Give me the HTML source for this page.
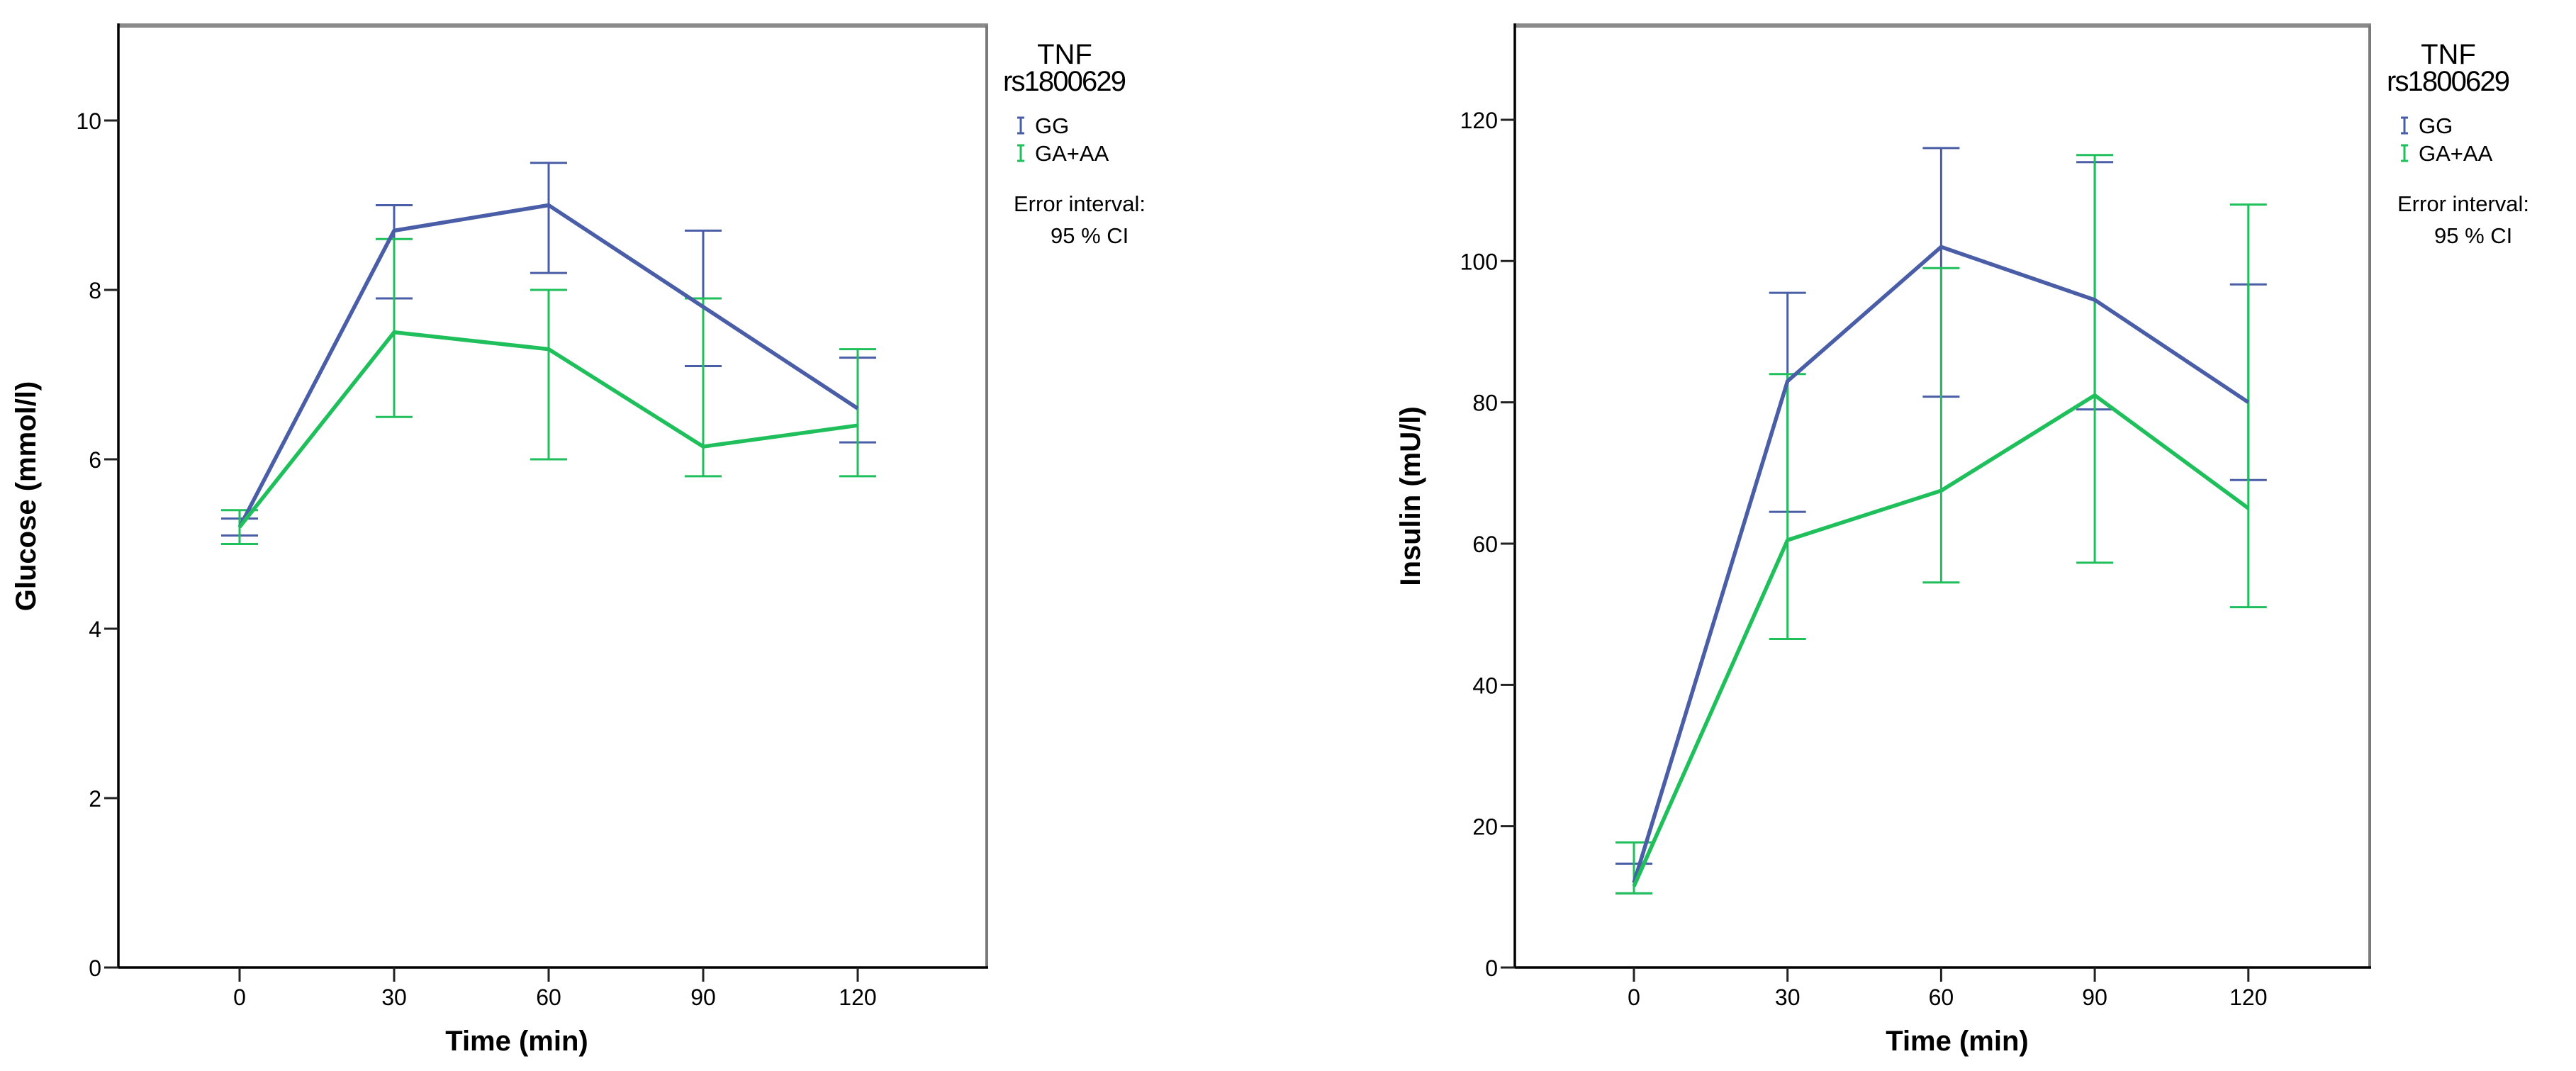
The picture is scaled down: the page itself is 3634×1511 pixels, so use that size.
<!DOCTYPE html>
<html><head><meta charset="utf-8"><style>
html,body{margin:0;padding:0;background:#fff;}
svg{display:block;font-family:"Liberation Sans",sans-serif;}
</style></head><body>
<svg id="chart" width="3634" height="1511" viewBox="0 0 3634 1511" xmlns="http://www.w3.org/2000/svg"></svg>
<script>
const times = [0, 30, 60, 90, 120];
const glucoseGG = [5.2, 8.7, 9.0, 7.8, 6.6];
const glucoseGGLo = [5.1, 7.9, 8.2, 7.1, 6.2];
const glucoseGGHi = [5.3, 9.0, 9.5, 8.7, 7.2];
const glucoseGA = [5.2, 7.5, 7.3, 6.15, 6.4];
const glucoseGALo = [5.0, 6.5, 6.0, 5.8, 5.8];
const glucoseGAHi = [5.4, 8.6, 8.0, 7.9, 7.3];
const glucoseTicks = [0, 2, 4, 6, 8, 10];
const insulinGG = [12, 83, 102, 94.5, 80];
const insulinGGLo = [10.5, 64.5, 80.8, 79, 69];
const insulinGGHi = [14.7, 95.5, 116, 114, 96.7];
const insulinGA = [11.5, 60.5, 67.5, 81, 65];
const insulinGALo = [10.5, 46.5, 54.5, 57.3, 51];
const insulinGAHi = [17.7, 84, 99, 115, 108];
const insulinTicks = [0, 20, 40, 60, 80, 100, 120];
const xTickLabels = ["0", "30", "60", "90", "120"];

const NS = "http://www.w3.org/2000/svg";
const svg = document.getElementById("chart");
function mk(tag, attrs, parent) {
  const e = document.createElementNS(NS, tag);
  for (const k in attrs) e.setAttribute(k, attrs[k]);
  (parent || svg).appendChild(e);
  return e;
}
const BLUE = "#4a5ea8", GREEN = "#1fbf5c";

function panel(cfg) {
  const g = mk("g", {});
  
  
  const L = cfg.left, R = cfg.right, T = 36, B = 1365;
  const xs = t => cfg.x0 + (t / 30) * cfg.step;
  const ys = v => B - v * cfg.ppu;
  const top = mk("line", {x1: L, y1: T, x2: R + 2, y2: T, stroke: "#8a8a8a", "stroke-width": 6}, g);
  
  
  const rb = mk("line", {x1: R, y1: T, x2: R, y2: B, stroke: "#7a7a7a", "stroke-width": 4}, g);
  
  
  const ya = mk("line", {x1: L, y1: T - 3, x2: L, y2: B + 1.5, stroke: "#000", "stroke-width": 3.5}, g);
  
  
  const xa = mk("line", {x1: L, y1: B, x2: R + 2, y2: B, stroke: "#000", "stroke-width": 3.5}, g);
  
  
  cfg.ticks.forEach(v => {
    const tk = mk("line", {x1: L - 20, y1: ys(v), x2: L, y2: ys(v), stroke: "#222", "stroke-width": 3}, g);
    
    
    const tl = mk("text", {x: L - 24, y: ys(v) + 12, "text-anchor": "end", "font-size": 32, fill: "#000"}, g);
    
    
    tl.textContent = String(v);
  });
  times.forEach((t, i) => {
    const tk = mk("line", {x1: xs(t), y1: B, x2: xs(t), y2: B + 20, stroke: "#222", "stroke-width": 3}, g);
    
    
    const tl = mk("text", {x: xs(t), y: 1418, "text-anchor": "middle", "font-size": 32, fill: "#000"}, g);
    
    
    tl.textContent = xTickLabels[i];
  });
  cfg.series.forEach(s => {
    s.lo.forEach((lo, i) => {
      const x = xs(times[i]);
      const eb = mk("path", {d: `M${x - 26},${ys(lo)}H${x + 26}M${x},${ys(lo)}V${ys(s.hi[i])}M${x - 26},${ys(s.hi[i])}H${x + 26}`, stroke: s.color, "stroke-width": 3, fill: "none"}, g);
      
      
    });
  });
  cfg.series.forEach(s => {
    const pts = s.mean.map((v, i) => xs(times[i]) + "," + ys(v)).join(" ");
    const pl = mk("polyline", {points: pts, stroke: s.color, "stroke-width": 5.5, fill: "none", "stroke-linejoin": "round"}, g);
    
    
  });
  const yt = mk("text", {x: cfg.ytx, y: 700, transform: `rotate(-90 ${cfg.ytx} 700)`, "text-anchor": "middle", "font-size": 40, "font-weight": "bold", fill: "#000"}, g);
  
  
  yt.textContent = cfg.ytitle;
  const xt = mk("text", {x: cfg.xtx, y: 1482, "text-anchor": "middle", "font-size": 40, "font-weight": "bold", fill: "#000"}, g);
  
  
  xt.textContent = "Time (min)";
  const lg = mk("g", {}, g);
  
  
  const lx = cfg.lx;
  const t1 = mk("text", {x: lx + 87, y: 90, "text-anchor": "middle", "font-size": 40, fill: "#000"}, lg);
  
  
  t1.textContent = "TNF";
  const t2 = mk("text", {x: lx + 87, y: 128, "text-anchor": "middle", "font-size": 40, fill: "#000", textLength: 174}, lg);
  
  
  t2.textContent = "rs1800629";
  [["GG", BLUE, 188], ["GA+AA", GREEN, 227]].forEach(([lab, col, yb]) => {
    const ic = mk("path", {d: `M${lx + 20},${yb - 22}H${lx + 30}M${lx + 25},${yb - 22}V${yb}M${lx + 20},${yb}H${lx + 30}`, stroke: col, "stroke-width": 3, fill: "none"}, lg);
    
    
    const tx = mk("text", {x: lx + 45, y: yb, "font-size": 31, fill: "#000"}, lg);
    
    
    tx.textContent = lab;
  });
  const e1 = mk("text", {x: lx + 15, y: 298, "font-size": 31, fill: "#000"}, lg);
  
  
  e1.textContent = "Error interval:";
  const e2 = mk("text", {x: lx + 67, y: 343, "font-size": 31, fill: "#000"}, lg);
  
  
  e2.textContent = "95 % CI";
}

panel({name: "glucose-chart", left: 167, right: 1392, x0: 338, step: 218, ppu: 119.5,
  ticks: glucoseTicks, ytitle: "Glucose (mmol/l)", ytx: 50, xtx: 729, lx: 1415,
  series: [
    {key: "gg", color: BLUE, mean: glucoseGG, lo: glucoseGGLo, hi: glucoseGGHi},
    {key: "ga-aa", color: GREEN, mean: glucoseGA, lo: glucoseGALo, hi: glucoseGAHi}
  ]});
panel({name: "insulin-chart", left: 2137, right: 3343, x0: 2305, step: 216.7, ppu: 9.967,
  ticks: insulinTicks, ytitle: "Insulin (mU/l)", ytx: 2003, xtx: 2761, lx: 3367,
  series: [
    {key: "gg", color: BLUE, mean: insulinGG, lo: insulinGGLo, hi: insulinGGHi},
    {key: "ga-aa", color: GREEN, mean: insulinGA, lo: insulinGALo, hi: insulinGAHi}
  ]});
</script>
</body></html>
